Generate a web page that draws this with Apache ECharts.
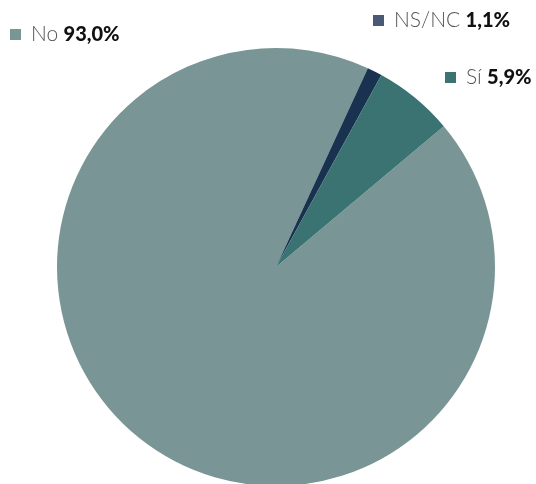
<!DOCTYPE html>
<html>
<head>
<meta charset="utf-8">
<script src="https://cdn.jsdelivr.net/npm/echarts@6/dist/echarts.min.js"></script>
<style>
  html, body { margin: 0; padding: 0; background: #fff; }
  #chart { width: 536px; height: 484px; }
</style>
</head>
<body>
<div id="chart"></div>
<script>
const names = ["No", "NS/NC", "Sí"];
const values = [93.0, 1.1, 5.9];
const sliceColors = ["#7a9595", "#18324f", "#3a7372"];
const markerColors = ["#7a9595", "#4b5878", "#3a7372"];

const fmt = v => v.toFixed(1).replace(".", ",") + "%";

// marker left edge and vertical centre for each legend entry
const legendPos = [
  { left: 10, cy: 34.5 },
  { left: 373, cy: 20.5 },
  { left: 445, cy: 77.5 }
];

const legends = names.map((n, i) => ({
  data: [{ name: n, itemStyle: { color: markerColors[i] } }],
  left: legendPos[i].left,
  top: legendPos[i].cy - 12,
  padding: 0,
  itemWidth: 11,
  itemHeight: 11,
  icon: "rect",
  selectedMode: false,
  formatter: name => "{n|" + name + "} {v|" + fmt(values[names.indexOf(name)]) + "}",
  textStyle: {
    lineHeight: 24,
    rich: {
      n: { fontFamily: "Lato", fontSize: 21, fontWeight: 300, color: "#555", lineHeight: 24, padding: [0, 1, 0, 5] },
      v: { fontFamily: "Lato", fontSize: 20, fontWeight: 900, color: "#111", lineHeight: 24, padding: [0, 0, 0, 1] }
    }
  }
}));

const chart = echarts.init(document.getElementById("chart"));
chart.setOption({
  animation: false,
  legend: legends,
  series: [{
    type: "pie",
    center: [276, 267],
    radius: 219,
    startAngle: 40,
    clockwise: true,
    label: { show: false },
    labelLine: { show: false },
    emphasis: { disabled: true },
    itemStyle: { borderWidth: 0 },
    data: names.map((n, i) => ({ name: n, value: values[i], itemStyle: { color: sliceColors[i] } }))
  }]
});
</script>
</body>
</html>
